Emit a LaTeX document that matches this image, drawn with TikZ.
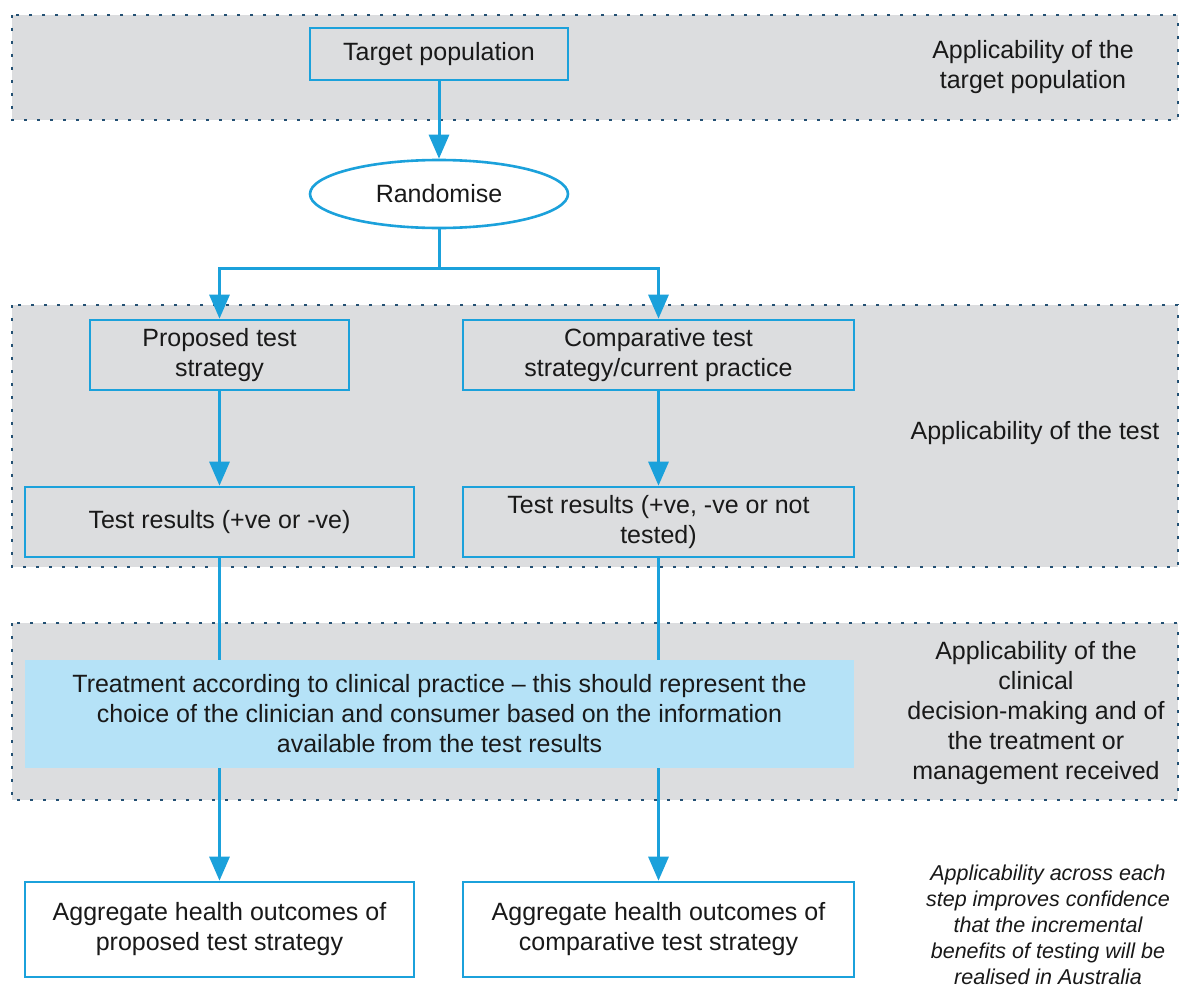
\documentclass[tikz,border=0pt]{standalone}
\usepackage{fontspec}
\setmainfont{Liberation Sans}
\usepackage{xcolor}
\usetikzlibrary{arrows.meta,shapes.geometric}

\definecolor{flowblue}{RGB}{27,161,219}
\definecolor{bandgrey}{RGB}{220,221,223}
\definecolor{banddots}{RGB}{35,80,115}
\definecolor{treatblue}{RGB}{181,226,247}
\definecolor{inktext}{RGB}{25,25,25}

\tikzset{
  band/.style={fill=bandgrey, draw=banddots, line width=2.6pt, dash pattern=on 2.6pt off 10.4pt},
  stepbox/.style={draw=flowblue, line width=2.6pt, inner sep=0pt, align=center, text=inktext},
  flow/.style={draw=flowblue, line width=3pt},
  flowarr/.style={flow, -{Triangle[length=24pt,width=20pt]}},
  sidetext/.style={align=center, text=inktext}
}

\begin{document}
\begin{tikzpicture}[x=1pt, y=-1pt, font=\fontsize{25}{30}\selectfont]
        \useasboundingbox (0,0) rectangle (1179,990);
        \fill[white] (0,0) rectangle (1179,990);

        \draw[band] (12,15) rectangle (1178,120);
        \draw[band] (12,305) rectangle (1178,567);
        \draw[band] (12,623) rectangle (1178,800);

        \node[stepbox, minimum width=258pt, minimum height=52pt] (tgt) at (439,54) {Target population};
        \node[stepbox, ellipse, fill=white, minimum width=258pt, minimum height=68pt] (rand) at (439,194) {Randomise};
        \coordinate (split) at (439,268);

        \node[stepbox, minimum width=259pt, minimum height=70pt] (prop) at (219.5,355) {Proposed test\\strategy};
        \node[stepbox, minimum width=391pt, minimum height=70pt] (comp) at (658.5,355) {Comparative test\\strategy/current practice};
        \node[stepbox, minimum width=389pt, minimum height=70pt] (resP) at (219.5,522) {Test results (+ve or -ve)};
        \node[stepbox, minimum width=391pt, minimum height=70pt] (resC) at (658.5,522) {Test results (+ve, -ve or not\\tested)};

        \node[fill=treatblue, inner sep=0pt, minimum width=829pt, minimum height=108pt, align=center, text=inktext] (treat) at (439.5,714)
            {Treatment according to clinical practice -- this should represent the\\choice of the clinician and consumer based on the information\\available from the test results};

        \node[stepbox, fill=white, minimum width=389pt, minimum height=95pt] (outP) at (219.5,929.5) {Aggregate health outcomes of\\proposed test strategy};
        \node[stepbox, fill=white, minimum width=391pt, minimum height=95pt] (outC) at (658.5,929.5) {Aggregate health outcomes of\\comparative test strategy};

        \node[sidetext] (lblpop) at (1033,67) {Applicability of the\\target population};
        \node[sidetext] (lbltest) at (1035,433) {Applicability of the test};
        \node[sidetext] (lblclin) at (1036,713) {Applicability of the\\clinical\\decision-making and of\\the treatment or\\management received};
        \node[sidetext, font=\fontsize{21.5}{26}\selectfont\itshape] (lblnote) at (1048,925)
            {Applicability across each\\step improves confidence\\that the incremental\\benefits of testing will be\\realised in Australia};

        \draw[flowarr] (tgt) -- (rand);
        \draw[flow] (rand) -- (split);
        \draw[flowarr] (split) -| (prop.north);
        \draw[flowarr] (split) -| (comp.north);
        \draw[flowarr] (prop) -- (resP);
        \draw[flowarr] (comp) -- (resC);
        \draw[flow] (resP) -- (resP |- treat.north);
        \draw[flow] (resC) -- (resC |- treat.north);
        \draw[flowarr] (outP |- treat.south) -- (outP);
        \draw[flowarr] (outC |- treat.south) -- (outC);
\end{tikzpicture}
\end{document}
